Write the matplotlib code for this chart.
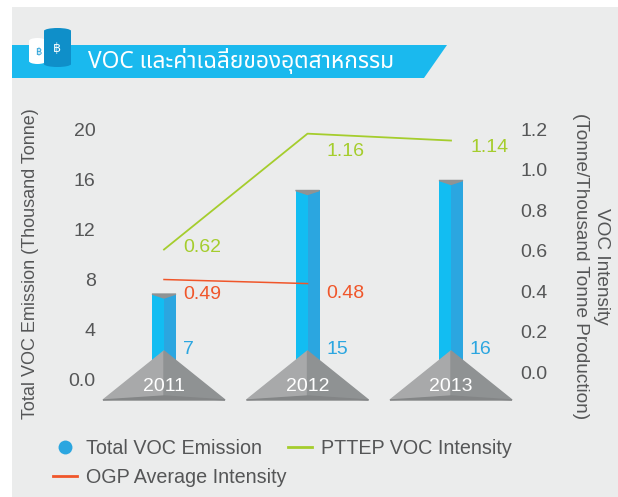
import matplotlib
matplotlib.use('Agg')
import matplotlib.pyplot as plt
from matplotlib.lines import Line2D
from matplotlib.patches import Ellipse, Polygon, Rectangle, FancyBboxPatch

W, H = 618, 497

years = ['2011', '2012', '2013']
emission = [6.85, 15.1, 15.9]
emission_labels = ['7', '15', '16']
# both lines sit a bit off their printed labels in the original
pttep_drawn = [0.605, 1.177, 1.143]
pttep_labels = ['0.62', '1.16', '1.14']
ogp_drawn = [0.457, 0.437]
ogp_labels = ['0.49', '0.48']
left_ticks = [0, 4, 8, 12, 16, 20]
left_ticklabels = ['0.0', '4', '8', '12', '16', '20']
right_ticks = [0.0, 0.2, 0.4, 0.6, 0.8, 1.0, 1.2]

GREY = '#555657'
BG = '#ebecec'
plt.rcParams['font.family'] = ['Liberation Sans', 'Noto Sans', 'DejaVu Sans']

fig = plt.figure(figsize=(W / 100, H / 100), dpi=100, facecolor='white')


def px_axes(x0, y0, x1, y1):
    return [x0 / W, 1 - y1 / H, (x1 - x0) / W, (y1 - y0) / H]


def barrel(a, x0, y0, x1, y1, color):
    a.add_patch(FancyBboxPatch((x0, y0 + 2), x1 - x0, y1 - y0 - 4, boxstyle='round,pad=0,rounding_size=2',
                               fc=color, ec='none'))
    a.add_patch(Ellipse(((x0 + x1) / 2, y0 + 3), x1 - x0, 6, fc=color, ec='none'))
    a.add_patch(Ellipse(((x0 + x1) / 2, y1 - 3), x1 - x0, 6, fc=color, ec='none'))


# whole figure in pixel coordinates for the decoration
bg = fig.add_axes([0, 0, 1, 1])
bg.set_xlim(0, W)
bg.set_ylim(H, 0)
bg.axis('off')
bg.add_patch(Rectangle((12, 7), W - 12, H - 7, fc=BG, ec='none'))
bg.add_patch(Polygon([(12, 45), (447, 45), (424, 78), (12, 78)], fc='#1ab9ee', ec='none'))
barrel(bg, 29, 38, 46, 64, 'white')
barrel(bg, 44, 28, 71, 67, '#0f8fc9')
bg.text(38, 52, '฿', color='#1b9bd6', fontsize=7, ha='center', va='center', family='DejaVu Sans')
bg.text(57, 48, '฿', color='white', fontsize=9, ha='center', va='center', family='DejaVu Sans')
bg.text(88, 61.5, 'VOC และค่าเฉลี่ยของอุตสาหกรรม', color='white', fontsize=16.4, va='center',
        family=['Noto Sans Thai', 'Noto Sans', 'Noto Sans CJK SC', 'DejaVu Sans'])

# data axes: 0 to 20 sits on y=380..129, extended down to the pyramid base
ax = fig.add_axes(px_axes(60, 129, 550, 400))
ax.patch.set_alpha(0)
unit_y = (380 - 129) / 20
unit_x = 143.5
ax.set_xlim((60 - 164) / unit_x, (550 - 164) / unit_x)
ax.set_ylim(-(400 - 380) / unit_y, 20)
ax.set_yticks(left_ticks)
ax.set_yticklabels(left_ticklabels, fontsize=14, color=GREY)
ax.set_xticks([])
ax.tick_params(axis='y', length=0, pad=-25.6)
for s in ax.spines.values():
    s.set_visible(False)

ax2 = ax.twinx()
ax2.patch.set_alpha(0)
unit_r = (372 - 128) / 1.2
ax2.set_ylim(-(400 - 372) / unit_r, (372 - 129) / unit_r)
ax2.set_yticks(right_ticks)
ax2.set_yticklabels(['%.1f' % t for t in right_ticks], fontsize=14, color=GREY)
ax2.tick_params(axis='y', length=0, pad=-21.2)
for s in ax2.spines.values():
    s.set_visible(False)

xs = list(range(len(years)))
half = 12 / unit_x
ax.bar(xs, emission, width=half, align='edge', color='#2ba6e0', zorder=2)
ax.bar([x - half for x in xs], emission, width=half, align='edge', color='#12bdf2', zorder=2)
for x, v, lab in zip(xs, emission, emission_labels):
    ax.fill([x - half, x + half, x], [v, v, v - 4 / unit_y], color='#8f9394', zorder=3)
    ax.text(x + 19 / unit_x, 2.45, lab, color='#2ba6e0', fontsize=14, va='center', zorder=6)

# pyramids
pw = 61 / unit_x
apex = (380 - 351) / unit_y
base = -(400 - 380) / unit_y
lip = -(396 - 380) / unit_y
for x, year in zip(xs, years):
    ax.fill([x - pw, x, x], [base, apex, lip], color='#a8a9aa', clip_on=False, zorder=4)
    ax.fill([x, x + pw, x], [apex, base, lip], color='#8f9293', clip_on=False, zorder=4)
    ax.fill([x - pw, x, x + pw], [base, lip, base], color='#838586', clip_on=False, zorder=4)
    ax.text(x, -0.55, year, color='white', fontsize=14, ha='center', va='center', zorder=5)

ax2.plot(xs, pttep_drawn, color='#a5cd2d', lw=1.3, zorder=5)
ax2.plot(xs[:2], ogp_drawn, color='#f0562a', lw=1.1, zorder=5)
for x, y, lab in zip(xs, [0.615, 1.09, 1.11], pttep_labels):
    ax2.text(x + 19.5 / unit_x, y, lab, color='#a5cd2d', fontsize=14, va='center', zorder=6)
for x, y, lab in zip(xs, [0.383, 0.388], ogp_labels):
    ax2.text(x + 19 / unit_x, y, lab, color='#f0562a', fontsize=14, va='center', zorder=6)

fig.text(31 / W, 1 - 264 / H, 'Total VOC Emission (Thousand Tonne)', rotation=90, color=GREY,
         fontsize=13, ha='center', va='center')
fig.text(610 / W, 1 - 266.5 / H, 'VOC Intensity\n(Tonne/Thousand Tonne Production)', rotation=270, color=GREY,
         fontsize=13.7, ha='right', va='center', multialignment='center', linespacing=1.3)

handles = [Line2D([], [], color='none', marker='o', mfc='#2ba6e0', mec='none', ms=10),
           Line2D([], [], color='#f0562a', lw=2),
           Line2D([], [], color='#a5cd2d', lw=2)]
names = ['Total VOC Emission', 'OGP Average Intensity', 'PTTEP VOC Intensity']
fig.legend(handles, names, ncol=2, loc='upper left', bbox_to_anchor=(53 / W, 1 - 439 / H), frameon=False,
           fontsize=14.2, labelcolor=GREY, handlelength=1.24, handletextpad=0.41, columnspacing=0.1,
           labelspacing=0.5, borderpad=0, borderaxespad=0)

fig.savefig('out.png', dpi=100)
